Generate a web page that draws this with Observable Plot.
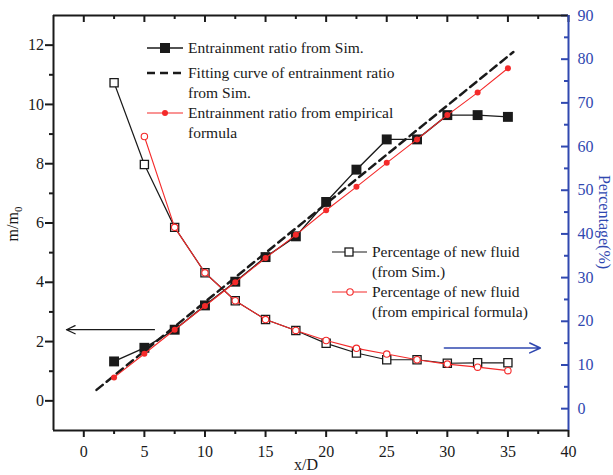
<!DOCTYPE html>
<html><head><meta charset="utf-8">
<script src="https://cdn.jsdelivr.net/npm/d3@7"></script>
<script src="https://cdn.jsdelivr.net/npm/@observablehq/plot@0.6"></script>
<style>body{margin:0;background:#fff} #chart{width:613px;height:475px}</style>
</head><body><div id="chart"></div>
<script>
// ---- data ----
const xD = [2.5, 5, 7.5, 10, 12.5, 15, 17.5, 20, 22.5, 25, 27.5, 30, 32.5, 35];
const ratioSim = [1.33, 1.79, 2.40, 3.22, 4.02, 4.85, 5.55, 6.71, 7.80, 8.82, 8.82, 9.64, 9.64, 9.58];
const ratioEmp = [0.79, 1.59, 2.40, 3.20, 4.00, 4.82, 5.60, 6.43, 7.22, 8.03, 8.82, 9.64, 10.40, 11.22];
const fitX = [1.05, 35.45];
const fitY = [0.37, 11.77];
const pctSim = [74.6, 55.9, 41.5, 31.1, 24.7, 20.4, 17.9, 14.95, 12.75, 11.2, 11.2, 10.4, 10.5, 10.5];
const xDPctEmp = [5, 7.5, 10, 12.5, 15, 17.5, 20, 22.5, 25, 27.5, 30, 32.5, 35];
const pctEmp = [62.3, 41.5, 31.1, 24.7, 20.4, 17.9, 15.6, 13.8, 12.5, 11.2, 10.2, 9.5, 8.7];
const xTicks = [0, 5, 10, 15, 20, 25, 30, 35, 40];
const xMinor = [2.5, 7.5, 12.5, 17.5, 22.5, 27.5, 32.5, 37.5];
const yTicks = [0, 2, 4, 6, 8, 10, 12];
const yMinor = [1, 3, 5, 7, 9, 11];
const rTicks = [0, 10, 20, 30, 40, 50, 60, 70, 80, 90];
const rMinor = [5, 15, 25, 35, 45, 55, 65, 75, 85];
const arrowLeft = {x1: 5.83, x2: -1.43, y: 2.4};
const arrowRight = {x1: 29.76, x2: 37.68, y: 13.9};
const xDomain = [-2.5, 40], yDomain = [-1, 13], rDomain = [-5, 90];

// ---- build ----
const yR = d3.scaleLinear(rDomain, yDomain); // right-axis (%) -> left-axis units
const blue = "#3048b0", red = "#f42a2a", ink = "#1a1a1a";
const serif = "'Liberation Serif', 'Times New Roman', serif";
const simRatio = xD.map((x, i) => ({x, y: ratioSim[i]}));
const empRatio = xD.map((x, i) => ({x, y: ratioEmp[i]}));
const fit = fitX.map((x, i) => ({x, y: fitY[i]}));
const simPct = xD.map((x, i) => ({x, y: yR(pctSim[i])}));
const empPct = xDPctEmp.map((x, i) => ({x, y: yR(pctEmp[i])}));
const W = 613, H = 475, mL = 53, mR = 45, mT = 15, mB = 45;
const iW = W - mL - mR, iH = H - mT - mB;

const plot = Plot.plot({
  width: W, height: H,
  marginLeft: mL, marginRight: mR, marginTop: mT, marginBottom: mB,
  x: {domain: xDomain, label: null},
  y: {domain: yDomain, label: null},
  style: {fontFamily: serif, fontSize: "16px", color: ink, background: "white"},
  marks: [
    // axes
    Plot.axisX(xTicks, {anchor: "bottom", tickSize: 7, tickPadding: 8, strokeWidth: 2, label: null, fontSize: 16}),
    Plot.axisX(xMinor, {anchor: "bottom", tickSize: 4, strokeWidth: 2, tickFormat: () => "", label: null}),
    Plot.tickX(xTicks, {x: d => d, insetBottom: iH - 7, strokeWidth: 2, stroke: ink}),
    Plot.tickX(xMinor, {x: d => d, insetBottom: iH - 4, strokeWidth: 2, stroke: ink}),
    Plot.axisY(yTicks, {anchor: "left", tickSize: 8, tickPadding: 1.5, strokeWidth: 2, label: null, fontSize: 16}),
    Plot.axisY(yMinor, {anchor: "left", tickSize: 4, strokeWidth: 2, tickFormat: () => "", label: null}),
    Plot.tickY(rTicks.map(yR), {y: d => d, insetLeft: iW - 7, stroke: blue, strokeWidth: 2}),
    Plot.tickY(rMinor.map(yR), {y: d => d, insetLeft: iW - 4, stroke: blue, strokeWidth: 2}),
    Plot.axisY(rTicks.map(yR), {anchor: "right", tickSize: 0, tickPadding: 9, color: blue, label: null, fontSize: 16,
      tickFormat: d => String(Math.round(yR.invert(d)))}),
    // frame
    Plot.ruleY([yDomain[0]], {stroke: ink, strokeWidth: 2}),
    Plot.ruleY([yDomain[1]], {stroke: ink, strokeWidth: 2}),
    Plot.ruleX([xDomain[0]], {stroke: ink, strokeWidth: 2}),
    Plot.ruleX([xDomain[1]], {stroke: blue, strokeWidth: 2}),
    // percentage series
    Plot.line(simPct, {x: "x", y: "y", stroke: ink, strokeWidth: 1.2}),
    Plot.dot(simPct, {x: "x", y: "y", symbol: "square", r: 4.6, fill: "white", stroke: ink, strokeWidth: 1.3}),
    Plot.line(empPct, {x: "x", y: "y", stroke: red, strokeWidth: 1.1}),
    Plot.dot(empPct, {x: "x", y: "y", r: 3.2, fill: "white", stroke: red, strokeWidth: 1.1}),
    // entrainment ratio
    Plot.line(fit, {x: "x", y: "y", stroke: ink, strokeWidth: 2.5, strokeDasharray: "8,5"}),
    Plot.line(simRatio, {x: "x", y: "y", stroke: ink, strokeWidth: 1.4}),
    Plot.dot(simRatio, {x: "x", y: "y", symbol: "square", r: 5.6, fill: ink}),
    Plot.line(empRatio, {x: "x", y: "y", stroke: red, strokeWidth: 1.1}),
    Plot.dot(empRatio, {x: "x", y: "y", r: 3, fill: red}),
    // arrows
    Plot.arrow([arrowLeft], {x1: "x1", x2: "x2", y1: "y", y2: "y", stroke: ink, strokeWidth: 1.3, headLength: 11, headAngle: 50}),
    Plot.arrow([arrowRight], {x1: "x1", x2: "x2", y1: d => yR(d.y), y2: d => yR(d.y), stroke: blue, strokeWidth: 1.6, headLength: 11, headAngle: 50})
  ]
});
document.getElementById("chart").appendChild(plot);

// ---- titles & legends ----
const svg = d3.select(plot);
const lab = svg.append("g").attr("font-family", serif).attr("font-size", 16).attr("fill", ink);
const ml = lab.append("text").attr("transform", "translate(18,224) rotate(-90)").attr("text-anchor", "middle");
ml.append("tspan").text("m/m");
ml.append("tspan").attr("font-size", 11).attr("dy", 4).text("0");
lab.append("text").attr("x", 306).attr("y", 470).attr("text-anchor", "middle").text("x/D");
lab.append("text").attr("transform", "translate(599,222) rotate(90)").attr("text-anchor", "middle").attr("fill", blue).text("Percentage(%)");

const lg = svg.append("g").attr("font-family", serif).attr("font-size", 15.5).attr("fill", ink).attr("text-anchor", "start");
function txt(x, y, s) { lg.append("text").attr("x", x).attr("y", y).attr("dy", "0.35em").attr("text-anchor", "start").text(s); }
function seg(x1, x2, y, stroke, w, dash) {
  const l = lg.append("line").attr("x1", x1).attr("x2", x2).attr("y1", y).attr("y2", y).attr("stroke", stroke).attr("stroke-width", w);
  if (dash) l.attr("stroke-dasharray", dash);
}
// legend 1
seg(147, 183, 48, ink, 1.4); lg.append("rect").attr("x", 160).attr("y", 43).attr("width", 10).attr("height", 10).attr("fill", ink);
txt(188, 48, "Entrainment ratio from Sim.");
seg(147, 183, 73, ink, 2.5, "8,5");
txt(188, 73, "Fitting curve of entrainment ratio");
txt(188, 93, "from Sim.");
seg(147, 183, 113, red, 1.1); lg.append("circle").attr("cx", 165).attr("cy", 113).attr("r", 3).attr("fill", red);
txt(188, 113, "Entrainment ratio from empirical");
txt(188, 133, "formula");
// legend 2
seg(332, 367, 252, ink, 1.2); lg.append("rect").attr("x", 345).attr("y", 248).attr("width", 8).attr("height", 8).attr("fill", "white").attr("stroke", ink).attr("stroke-width", 1.3);
txt(372, 252, "Percentage of new fluid");
txt(372, 272, "(from Sim.)");
seg(332, 367, 292, red, 1.1); lg.append("circle").attr("cx", 350).attr("cy", 292).attr("r", 3.2).attr("fill", "white").attr("stroke", red).attr("stroke-width", 1.1);
txt(372, 292, "Percentage of new fluid");
txt(372, 312, "(from empirical formula)");
</script>
</body></html>
